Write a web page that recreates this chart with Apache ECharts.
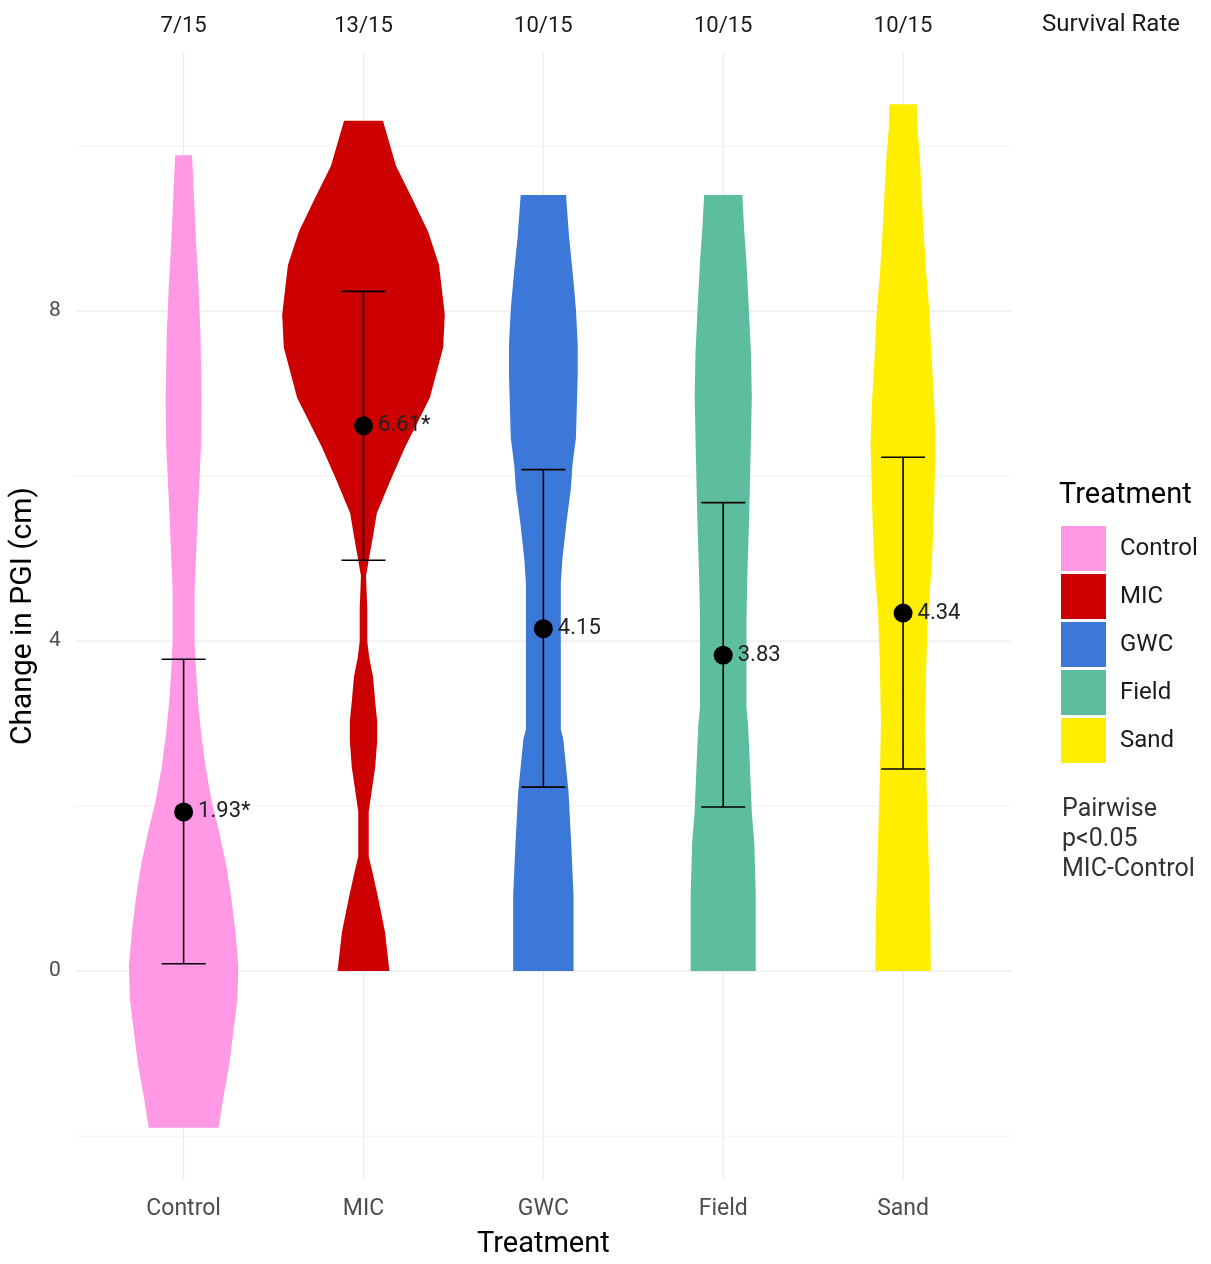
<!DOCTYPE html>
<html>
<head>
<meta charset="utf-8">
<script src="https://cdn.jsdelivr.net/npm/echarts@6/dist/echarts.min.js"></script>
<style>
  html, body { margin: 0; padding: 0; background: #ffffff; }
  #chart { width: 1211px; height: 1264px; }
</style>
</head>
<body>
<div id="chart"></div>
<script>
// Treatments, survival counts and summary statistics
const treatments = ['Control', 'MIC', 'GWC', 'Field', 'Sand'];
const survival = ['7/15', '13/15', '10/15', '10/15', '10/15'];
const means = [1.93, 6.61, 4.15, 3.83, 4.34];
const significant = [true, true, false, false, false];
const errLow = [0.09, 4.98, 2.23, 1.99, 2.45];
const errHigh = [3.78, 8.24, 6.08, 5.68, 6.23];
const colors = ['#FF99E6', '#CC0000', '#3C78D8', '#5CBD9F', '#FFEE00'];

// Violin outlines: [change in PGI, half-width as a fraction of the category spacing]
const controlDensity = [
  [-1.90, 0.194], [-1.53, 0.221], [-1.13, 0.254], [-0.73, 0.277], [-0.33, 0.299],
  [0.07, 0.304], [0.47, 0.288], [0.87, 0.266], [1.27, 0.238], [1.67, 0.199],
  [2.07, 0.155], [2.47, 0.122], [2.87, 0.098], [3.27, 0.080], [3.64, 0.069],
  [4.00, 0.061], [4.60, 0.061], [5.20, 0.072], [5.74, 0.083], [6.37, 0.097],
  [6.92, 0.100], [7.72, 0.094], [8.28, 0.083], [8.84, 0.069], [9.50, 0.055],
  [9.89, 0.047]
];
const micDensity = [
  [0.00, 0.144], [0.47, 0.120], [0.87, 0.083], [1.19, 0.051], [1.39, 0.029],
  [1.93, 0.029], [2.19, 0.046], [2.47, 0.065], [2.79, 0.076], [3.03, 0.076],
  [3.27, 0.065], [3.57, 0.053], [3.80, 0.032], [4.00, 0.021], [4.40, 0.021],
  [4.79, 0.014], [5.03, 0.033], [5.30, 0.055], [5.55, 0.074], [5.96, 0.152],
  [6.35, 0.231], [6.95, 0.369], [7.56, 0.443], [7.96, 0.452], [8.56, 0.420],
  [8.96, 0.360], [9.36, 0.272], [9.76, 0.181], [10.31, 0.108]
];
const gwcDensity = [
  [0.00, 0.168], [0.91, 0.168], [1.54, 0.155], [2.17, 0.140], [2.81, 0.111],
  [2.93, 0.097], [4.70, 0.097], [5.00, 0.106], [5.45, 0.129], [5.83, 0.152],
  [6.14, 0.162], [6.46, 0.181], [7.22, 0.191], [7.59, 0.191], [8.03, 0.181],
  [8.47, 0.163], [8.90, 0.143], [9.41, 0.126]
];
const fieldDensity = [
  [0.00, 0.181], [0.91, 0.181], [1.55, 0.173], [1.92, 0.159], [2.62, 0.146],
  [2.99, 0.138], [3.20, 0.129], [4.25, 0.129], [4.70, 0.133], [5.07, 0.138],
  [5.50, 0.144], [6.15, 0.151], [6.97, 0.159], [7.50, 0.154], [8.10, 0.141],
  [8.60, 0.129], [9.00, 0.116], [9.41, 0.106]
];
const sandDensity = [
  [0.00, 0.154], [0.60, 0.152], [1.30, 0.143], [2.20, 0.131], [3.00, 0.123],
  [3.70, 0.129], [4.30, 0.138], [4.90, 0.159], [5.40, 0.169], [5.90, 0.175],
  [6.40, 0.181], [6.90, 0.173], [7.50, 0.157], [7.95, 0.148], [8.45, 0.129],
  [8.90, 0.116], [9.40, 0.104], [9.90, 0.092], [10.20, 0.080], [10.51, 0.076]
];
const densities = [controlDensity, micDensity, gwcDensity, fieldDensity, sandDensity];

// Axis breaks
const yLabelTicks = [0, 4, 8];
const yMajorGrid = [0, 4, 8];
const yMinorGrid = [-2, 2, 6, 10];
const xPositions = [1, 2, 3, 4, 5];

const FONT = 'Roboto';
const chart = echarts.init(document.getElementById('chart'), null, { renderer: 'canvas' });

// Background grid lines spanning the full plotting panel
function renderGrid(params, api) {
  const cs = params.coordSys;
  const kind = api.value(0);   // 0 = horizontal major, 1 = horizontal minor, 2 = vertical
  const v = api.value(1);
  if (kind === 2) {
    const x = api.coord([v, 0])[0];
    return { type: 'line', shape: { x1: x, y1: cs.y, x2: x, y2: cs.y + cs.height },
      style: { stroke: '#ebebeb', lineWidth: 1.2 }, silent: true };
  }
  const y = api.coord([1, v])[1];
  return { type: 'line', shape: { x1: cs.x, y1: y, x2: cs.x + cs.width, y2: y },
    style: { stroke: kind === 0 ? '#ebebeb' : '#f2f2f2', lineWidth: kind === 0 ? 1.2 : 1 }, silent: true };
}

const gridRows = []
  .concat(yMajorGrid.map(v => [0, v]))
  .concat(yMinorGrid.map(v => [1, v]))
  .concat(xPositions.map(v => [2, v]));

function violinSeries(i) {
  return {
    name: treatments[i],
    type: 'custom',
    z: 2,
    itemStyle: { color: colors[i] },
    data: [[xPositions[i], 0]],
    renderItem: function (params, api) {
      const cx = api.value(0);
      const prof = densities[i];
      const pts = [];
      for (let k = 0; k < prof.length; k++) pts.push(api.coord([cx + prof[k][1], prof[k][0]]));
      for (let k = prof.length - 1; k >= 0; k--) pts.push(api.coord([cx - prof[k][1], prof[k][0]]));
      return { type: 'polygon', shape: { points: pts }, style: { fill: colors[i] } };
    }
  };
}

const errorRows = xPositions.map((x, i) => [x, errLow[i], errHigh[i]]);
const meanRows = xPositions.map((x, i) => [x, means[i]]);

const option = {
  animation: false,
  backgroundColor: '#ffffff',
  textStyle: { fontFamily: FONT },
  grid: { left: 70, right: 200, top: 53, bottom: 75, containLabel: false },
  xAxis: [
    {
      type: 'value', position: 'bottom', min: 0.4, max: 5.6,
      name: 'Treatment', nameLocation: 'middle', nameGap: 51,
      nameTextStyle: { fontSize: 29, color: '#000000', fontFamily: FONT },
      axisLine: { show: false }, axisTick: { show: false }, splitLine: { show: false },
      axisLabel: {
        customValues: xPositions, margin: 19, fontSize: 23, color: '#4d4d4d', fontFamily: FONT,
        formatter: v => treatments[Math.round(v) - 1]
      }
    },
    {
      type: 'value', position: 'top', min: 0.4, max: 5.6,
      axisLine: { show: false }, axisTick: { show: false }, splitLine: { show: false },
      axisLabel: {
        customValues: xPositions, margin: 16, fontSize: 22, color: '#1a1a1a', fontFamily: FONT,
        formatter: v => survival[Math.round(v) - 1]
      }
    }
  ],
  yAxis: {
    type: 'value', min: -2.52, max: 11.13,
    name: 'Change in PGI (cm)', nameLocation: 'middle', nameGap: 36, nameRotate: 90,
    nameTextStyle: { fontSize: 30, color: '#000000', fontFamily: FONT },
    axisLine: { show: false }, axisTick: { show: false }, splitLine: { show: false },
    axisLabel: { customValues: yLabelTicks, margin: 15, fontSize: 21, color: '#4d4d4d', fontFamily: FONT, padding: [6, 0, 0, 0] }
  },
  legend: {
    orient: 'vertical', left: 1061, top: 526, padding: 0,
    itemWidth: 45, itemHeight: 45, itemGap: 3, icon: 'rect',
    data: treatments,
    textStyle: { fontSize: 24, color: '#1a1a1a', fontFamily: FONT, padding: [5, 0, 0, 9] }
  },
  graphic: [
    { type: 'text', left: 1042, top: 13, style: { text: 'Survival Rate', font: '24px ' + FONT, fill: '#1a1a1a' } },
    { type: 'text', left: 1059, top: 481, style: { text: 'Treatment', font: '29px ' + FONT, fill: '#000000' } },
    { type: 'text', left: 1062, top: 795, style: { text: 'Pairwise\np<0.05\nMIC-Control', font: '25px ' + FONT, fill: '#333333', lineHeight: 30 } }
  ],
  series: [
    { type: 'custom', name: 'grid', z: 0, silent: true, data: gridRows, renderItem: renderGrid },
    violinSeries(0), violinSeries(1), violinSeries(2), violinSeries(3), violinSeries(4),
    {
      type: 'custom', name: 'sd', z: 5, silent: true, data: errorRows,
      renderItem: function (params, api) {
        const x = api.value(0);
        const lo = api.coord([x, api.value(1)]);
        const hi = api.coord([x, api.value(2)]);
        const cap = 22;
        const st = { stroke: '#000000', lineWidth: 1.6 };
        return { type: 'group', children: [
          { type: 'line', shape: { x1: lo[0], y1: lo[1], x2: hi[0], y2: hi[1] }, style: st },
          { type: 'line', shape: { x1: lo[0] - cap, y1: lo[1], x2: lo[0] + cap, y2: lo[1] }, style: st },
          { type: 'line', shape: { x1: hi[0] - cap, y1: hi[1], x2: hi[0] + cap, y2: hi[1] }, style: st }
        ] };
      }
    },
    {
      type: 'scatter', name: 'mean', z: 6, data: meanRows,
      symbol: 'circle', symbolSize: 19, itemStyle: { color: '#000000', opacity: 1 },
      label: {
        show: true, position: 'right', distance: 5, fontSize: 22, color: '#222222', fontFamily: FONT,
        formatter: p => means[p.dataIndex].toFixed(2) + (significant[p.dataIndex] ? '*' : '')
      }
    }
  ]
};

chart.setOption(option);
</script>
</body>
</html>
